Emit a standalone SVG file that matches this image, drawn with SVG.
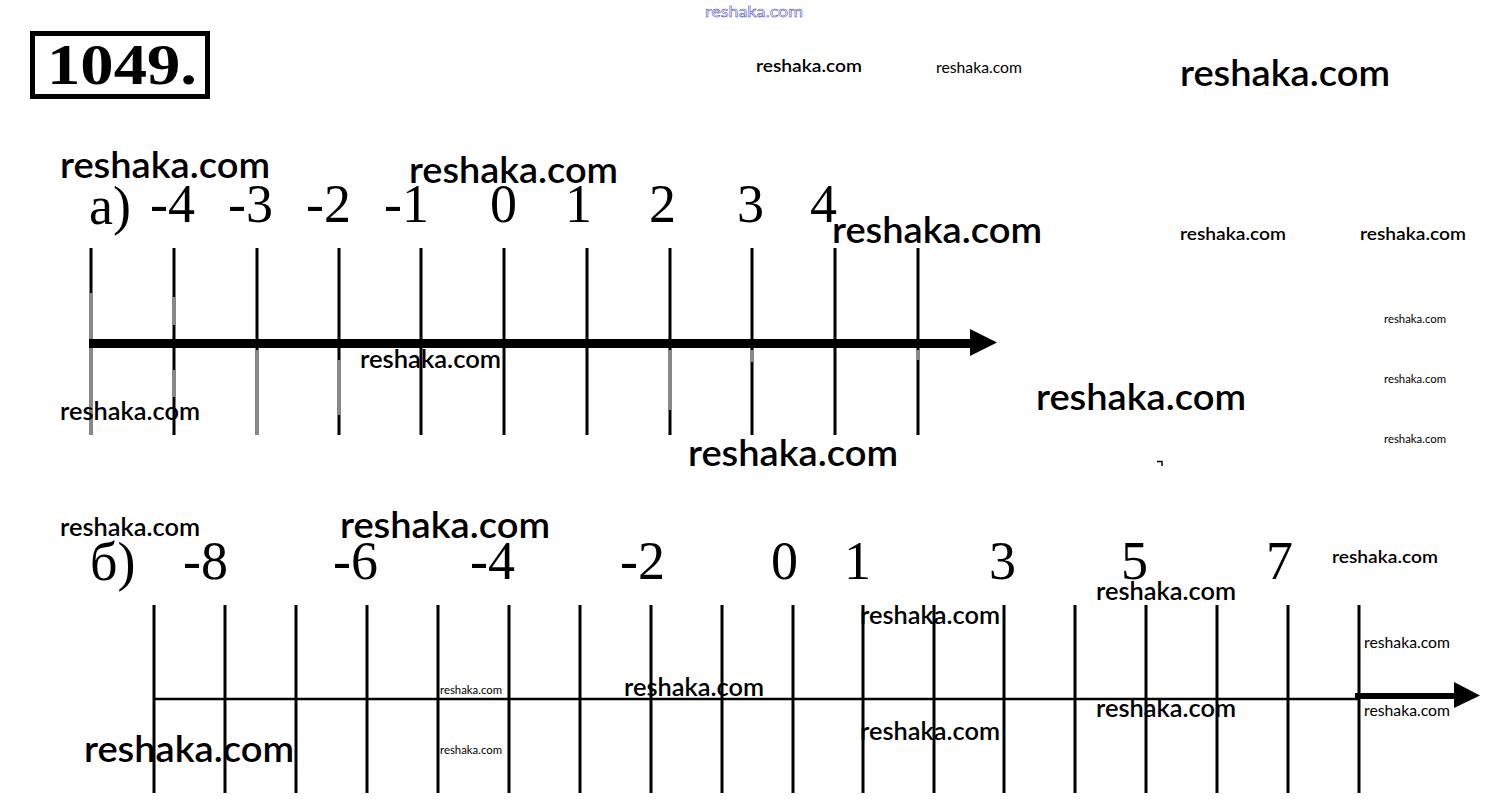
<svg xmlns="http://www.w3.org/2000/svg" width="1505" height="799" viewBox="0 0 1505 799">
<style>
.wm{font-family:Lato,"Noto Sans",sans-serif;fill:#000}
.w36{font-size:36px;font-weight:600}
.w24{font-size:24px;font-weight:600}
.w18{font-size:18px;font-weight:600}
.w15{font-size:15px}
.w10{font-size:10.5px}
.num{font-family:"Liberation Serif","Times New Roman",serif;font-size:54px;fill:#000}
.tick{stroke:#000;stroke-width:3}
.grey{stroke:#8a8a8a;stroke-width:3}
</style>
<rect width="1505" height="799" fill="#fff"/>

<g id="title">
<rect x="32.5" y="33.5" width="175" height="63" fill="none" stroke="#000" stroke-width="5"/>
<text x="47" y="84" font-family="Liberation Serif,serif" font-weight="bold" font-size="56" textLength="150" lengthAdjust="spacingAndGlyphs">1049.</text>
</g>

<g id="line-a">
<g id="ticks-a">
<line class="tick" x1="91" y1="248" x2="91" y2="435"/>
<line class="tick" x1="174" y1="248" x2="174" y2="435"/>
<line class="tick" x1="257" y1="248" x2="257" y2="435"/>
<line class="tick" x1="339" y1="248" x2="339" y2="435"/>
<line class="tick" x1="421" y1="248" x2="421" y2="435"/>
<line class="tick" x1="504" y1="248" x2="504" y2="435"/>
<line class="tick" x1="587" y1="248" x2="587" y2="435"/>
<line class="tick" x1="670" y1="248" x2="670" y2="435"/>
<line class="tick" x1="752" y1="248" x2="752" y2="435"/>
<line class="tick" x1="835" y1="248" x2="835" y2="435"/>
<line class="tick" x1="918" y1="248" x2="918" y2="435"/>
<line class="grey" x1="91" y1="293" x2="91" y2="435"/>
<line class="grey" x1="174" y1="297" x2="174" y2="325"/>
<line class="grey" x1="174" y1="370" x2="174" y2="397"/>
<line class="grey" x1="257" y1="350" x2="257" y2="435"/>
<line class="grey" x1="339" y1="360" x2="339" y2="415"/>
<line class="grey" x1="670" y1="350" x2="670" y2="410"/>
<line class="grey" x1="752" y1="350" x2="752" y2="362"/>
<line class="grey" x1="918" y1="350" x2="918" y2="360"/>
</g>
<line x1="89" y1="343.5" x2="972" y2="343.5" stroke="#000" stroke-width="9"/>
<polygon points="970,329 997,342.5 970,356" fill="#000"/>
<g id="labels-a">
<text class="num" x="89" y="224">а)</text>
<text class="num" x="150" y="222">-4</text>
<text class="num" x="228" y="222">-3</text>
<text class="num" x="306" y="222">-2</text>
<text class="num" x="384" y="222">-1</text>
<text class="num" x="490" y="222">0</text>
<text class="num" x="565" y="222">1</text>
<text class="num" x="649" y="222">2</text>
<text class="num" x="737" y="222">3</text>
<text class="num" x="810" y="222">4</text>
</g>
</g>

<g id="line-b">
<g id="ticks-b">
<line class="tick" x1="154" y1="605" x2="154" y2="793"/>
<line class="tick" x1="225" y1="605" x2="225" y2="793"/>
<line class="tick" x1="296" y1="605" x2="296" y2="793"/>
<line class="tick" x1="367" y1="605" x2="367" y2="793"/>
<line class="tick" x1="438" y1="605" x2="438" y2="793"/>
<line class="tick" x1="509" y1="605" x2="509" y2="793"/>
<line class="tick" x1="580" y1="605" x2="580" y2="793"/>
<line class="tick" x1="651" y1="605" x2="651" y2="793"/>
<line class="tick" x1="722" y1="605" x2="722" y2="793"/>
<line class="tick" x1="793" y1="605" x2="793" y2="793"/>
<line class="tick" x1="863" y1="605" x2="863" y2="793"/>
<line class="tick" x1="934" y1="605" x2="934" y2="793"/>
<line class="tick" x1="1004" y1="605" x2="1004" y2="793"/>
<line class="tick" x1="1075" y1="605" x2="1075" y2="793"/>
<line class="tick" x1="1146" y1="605" x2="1146" y2="793"/>
<line class="tick" x1="1217" y1="605" x2="1217" y2="793"/>
<line class="tick" x1="1288" y1="605" x2="1288" y2="793"/>
<line class="tick" x1="1359" y1="605" x2="1359" y2="793"/>
</g>
<line x1="154" y1="699" x2="1359" y2="699" stroke="#000" stroke-width="2.7"/>
<line x1="1355" y1="696" x2="1457" y2="696" stroke="#000" stroke-width="6"/>
<polygon points="1454,682 1480,695.5 1454,708" fill="#000"/>
<g id="labels-b">
<text class="num" x="90" y="580">б)</text>
<text class="num" x="183" y="579">-8</text>
<text class="num" x="333" y="579">-6</text>
<text class="num" x="470" y="579">-4</text>
<text class="num" x="620" y="579">-2</text>
<text class="num" x="771" y="579">0</text>
<text class="num" x="844" y="579">1</text>
<text class="num" x="989" y="579">3</text>
<text class="num" x="1121" y="579">5</text>
<text class="num" x="1266" y="579">7</text>
</g>
</g>

<path d="M1157,461.5 H1162 V466" fill="none" stroke="#000" stroke-width="1.5"/>

<g id="watermarks">
<text x="705" y="17" font-family="Lato,sans-serif" font-size="16" fill="#fff" stroke="#3a3ad0" stroke-width="0.5" textLength="98" lengthAdjust="spacingAndGlyphs">reshaka.com</text>
<text class="wm w18" x="756" y="72" textLength="106" lengthAdjust="spacingAndGlyphs">reshaka.com</text>
<text class="wm w15" x="936" y="73" textLength="86" lengthAdjust="spacingAndGlyphs">reshaka.com</text>
<text class="wm w36" x="1180" y="86" textLength="210" lengthAdjust="spacingAndGlyphs">reshaka.com</text>
<text class="wm w36" x="60" y="178" textLength="210" lengthAdjust="spacingAndGlyphs">reshaka.com</text>
<text class="wm w36" x="409" y="183" textLength="209" lengthAdjust="spacingAndGlyphs">reshaka.com</text>
<text class="wm w36" x="832" y="243" textLength="210" lengthAdjust="spacingAndGlyphs">reshaka.com</text>
<text class="wm w18" x="1180" y="240" textLength="106" lengthAdjust="spacingAndGlyphs">reshaka.com</text>
<text class="wm w18" x="1360" y="240" textLength="106" lengthAdjust="spacingAndGlyphs">reshaka.com</text>
<text class="wm w10" x="1384" y="323" textLength="62" lengthAdjust="spacingAndGlyphs">reshaka.com</text>
<text class="wm w10" x="1384" y="383" textLength="62" lengthAdjust="spacingAndGlyphs">reshaka.com</text>
<text class="wm w10" x="1384" y="443" textLength="62" lengthAdjust="spacingAndGlyphs">reshaka.com</text>
<text class="wm w24" x="360" y="368" textLength="141" lengthAdjust="spacingAndGlyphs">reshaka.com</text>
<text class="wm w24" x="60" y="420" textLength="140" lengthAdjust="spacingAndGlyphs">reshaka.com</text>
<text class="wm w36" x="1036" y="410" textLength="210" lengthAdjust="spacingAndGlyphs">reshaka.com</text>
<text class="wm w36" x="688" y="466" textLength="210" lengthAdjust="spacingAndGlyphs">reshaka.com</text>
<text class="wm w24" x="60" y="536" textLength="140" lengthAdjust="spacingAndGlyphs">reshaka.com</text>
<text class="wm w36" x="340" y="538" textLength="210" lengthAdjust="spacingAndGlyphs">reshaka.com</text>
<text class="wm w18" x="1332" y="563" textLength="106" lengthAdjust="spacingAndGlyphs">reshaka.com</text>
<text class="wm w24" x="1096" y="600" textLength="140" lengthAdjust="spacingAndGlyphs">reshaka.com</text>
<text class="wm w24" x="860" y="624" textLength="140" lengthAdjust="spacingAndGlyphs">reshaka.com</text>
<text class="wm w15" x="1364" y="648" textLength="86" lengthAdjust="spacingAndGlyphs">reshaka.com</text>
<text class="wm w10" x="440" y="694" textLength="62" lengthAdjust="spacingAndGlyphs">reshaka.com</text>
<text class="wm w24" x="624" y="696" textLength="140" lengthAdjust="spacingAndGlyphs">reshaka.com</text>
<text class="wm w24" x="1096" y="717" textLength="140" lengthAdjust="spacingAndGlyphs">reshaka.com</text>
<text class="wm w15" x="1364" y="716" textLength="86" lengthAdjust="spacingAndGlyphs">reshaka.com</text>
<text class="wm w24" x="860" y="740" textLength="140" lengthAdjust="spacingAndGlyphs">reshaka.com</text>
<text class="wm w36" x="84" y="762" textLength="210" lengthAdjust="spacingAndGlyphs">reshaka.com</text>
<text class="wm w10" x="440" y="754" textLength="62" lengthAdjust="spacingAndGlyphs">reshaka.com</text>
</g>
</svg>
